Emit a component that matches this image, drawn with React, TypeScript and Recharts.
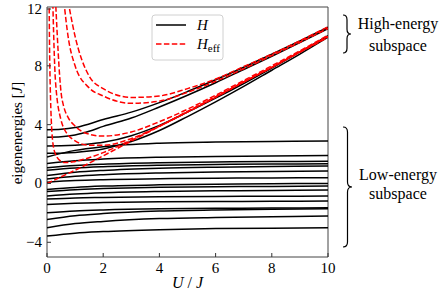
import React from "react";
import { LineChart, Line, XAxis, YAxis, ReferenceArea } from "recharts";

// U/J sample points
const lowU = [0, 1, 2, 4, 6, 8, 10];
const hiU = [0, 0.5, 1, 1.5, 2, 3, 4, 5, 6, 7, 8, 9, 10];
const redU = [0.05, 0.1, 0.2, 0.3, 0.5, 0.6, 0.75, 1, 1.5, 2, 3, 4, 5, 6, 7, 8, 9, 10];

// H : low-energy levels (read at lowU)
const low01 = [1.8, 2.25, 2.5, 2.74, 2.82, 2.86, 2.88];
const low02 = [1.36, 1.55, 1.66, 1.78, 1.84, 1.87, 1.9];
const low03 = [1.07, 1.22, 1.31, 1.41, 1.46, 1.49, 1.51];
const low04 = [0.9, 1.05, 1.14, 1.24, 1.29, 1.32, 1.34];
const low05 = [0.54, 0.76, 0.89, 1.04, 1.11, 1.15, 1.18];
const low06 = [0.3, 0.49, 0.6, 0.72, 0.78, 0.81, 0.84];
const low07 = [0.09, 0.2, 0.26, 0.32, 0.36, 0.38, 0.39];
const low08 = [-0.41, -0.27, -0.18, -0.09, -0.05, -0.02, 0.0];
const low09 = [-0.55, -0.42, -0.35, -0.26, -0.22, -0.2, -0.18];
const low10 = [-0.86, -0.72, -0.63, -0.54, -0.5, -0.47, -0.45];
const low11 = [-1.05, -0.98, -0.95, -0.9, -0.88, -0.87, -0.86];
const low12 = [-1.43, -1.35, -1.3, -1.25, -1.23, -1.21, -1.2];
const low13 = [-1.99, -1.87, -1.8, -1.72, -1.69, -1.67, -1.65];
const low14 = [-2.45, -2.19, -2.05, -1.88, -1.8, -1.76, -1.72];
const low15 = [-3.01, -2.73, -2.58, -2.39, -2.31, -2.26, -2.22];
const low16 = [-3.58, -3.38, -3.27, -3.14, -3.07, -3.04, -3.01];

// H : high-energy levels (read at hiU)
const top1 = [3.65, 3.68, 3.8, 4.05, 4.35, 4.85, 5.5, 6.25, 7.05, 7.9, 8.8, 9.7, 10.62];
const top2 = [3.15, 3.18, 3.3, 3.55, 3.88, 4.45, 5.2, 6.0, 6.85, 7.75, 8.65, 9.58, 10.52];
const bot1 = [2.55, 2.56, 2.6, 2.68, 2.8, 3.25, 3.95, 4.85, 5.8, 6.8, 7.85, 8.95, 10.05];
const bot2 = [2.05, 2.06, 2.1, 2.2, 2.35, 2.85, 3.6, 4.55, 5.55, 6.6, 7.7, 8.8, 9.95];

// H_eff levels
const effLine = [0, 0.45, 0.9, 1.38, 1.88, 2.88, 3.88, 4.88, 5.88, 6.9, 7.9, 8.92, 9.93];
const effIn0 = [20, 8.0, 2.9, 2.0, 1.5, 1.43, 1.42, 1.5, 1.75, 2.1, 2.95, 3.9, 4.9, 5.9, 6.9, 7.9, 8.95, 9.98];
const effIn1 = [null, null, 12.8, 7.0, 4.3, 3.75, 3.3, 2.9, 2.6, 2.6, 3.05, 3.9, 4.85, 5.85, 6.9, 7.9, 8.95, 10.0];
const effIn2 = [null, null, null, 12.6, 6.2, 5.2, 4.5, 3.9, 3.35, 3.22, 3.5, 4.2, 5.05, 6.0, 7.0, 8.0, 9.02, 10.08];
const effOut1 = [null, null, null, null, null, 12.4, 10.0, 8.0, 6.5, 5.95, 5.45, 5.6, 6.2, 6.95, 7.8, 8.7, 9.6, 10.55];
const effOut2 = [null, null, null, null, null, null, 12.4, 10.0, 7.3, 6.45, 5.85, 5.95, 6.45, 7.1, 7.95, 8.8, 9.7, 10.65];

const yTicks = [-4, 0, 4, 8, 12];
const xTicks = [0, 2, 4, 6, 8, 10];

const lowLevels = [low01, low02, low03, low04, low05, low06, low07, low08, low09, low10, low11, low12, low13, low14, low15, low16];
const highLevels = [top1, top2, bot1, bot2];
const effLevels: [number[], (number | null)[]][] = [
  [hiU, effLine],
  [redU, effIn0],
  [redU, effIn1],
  [redU, effIn2],
  [redU, effOut1],
  [redU, effOut2],
];

const pts = (xs: number[], ys: (number | null)[]) => xs.map((u, i) => ({ u, e: ys[i] }));

const serif = "'Liberation Serif', 'DejaVu Serif', serif";
const fmt = (v: number) => (v < 0 ? "\u2212" + Math.abs(v) : String(v));

const YTick = (props: any) => {
  const { x, y, payload } = props;
  return (
    <g>
      <line x1={x} x2={x + 4} y1={y} y2={y} stroke="#333" />
      <text x={x - 5} y={y} dy={5} textAnchor="end" style={{ fontFamily: serif, fontSize: 15 }} fill="#000">
        {fmt(payload.value)}
      </text>
    </g>
  );
};

const XTick = (props: any) => {
  const { x, y, payload } = props;
  return (
    <g>
      <line x1={x} x2={x} y1={y} y2={y - 4} stroke="#333" />
      <text x={x} y={y + 16} textAnchor="middle" style={{ fontFamily: serif, fontSize: 15 }} fill="#000">
        {payload.value}
      </text>
    </g>
  );
};

function brace(x: number, y1: number, y2: number, w: number) {
  const ym = (y1 + y2) / 2;
  const r = Math.min(5, (y2 - y1) / 8);
  const xm = x + w / 2;
  return `M${x},${y1} Q${xm},${y1} ${xm},${y1 + r} L${xm},${ym - r} Q${xm},${ym} ${x + w},${ym} Q${xm},${ym} ${xm},${ym + r} L${xm},${y2 - r} Q${xm},${y2} ${x},${y2}`;
}

export default function App() {
  return (
    <div style={{ position: "absolute", left: 0, top: 0, width: 447, height: 300, background: "#fff" }}>
      <LineChart width={447} height={300} margin={{ top: 7, right: 119, left: 0, bottom: 0 }}>
        <XAxis
          dataKey="u"
          type="number"
          domain={[0, 10]}
          ticks={xTicks}
          allowDataOverflow
          axisLine={false}
          tickLine={false}
          tickSize={0}
          tickMargin={0}
          height={43}
          tick={<XTick />}
        />
        <YAxis
          type="number"
          domain={[-5, 12]}
          ticks={yTicks}
          allowDataOverflow
          axisLine={false}
          tickLine={false}
          tickSize={0}
          tickMargin={0}
          width={47}
          tick={<YTick />}
        />
        {lowLevels.map((ys, i) => (
          <Line
            key={"low" + i}
            data={pts(lowU, ys)}
            dataKey="e"
            type="monotone"
            stroke="#000"
            strokeWidth={1.5}
            dot={false}
            isAnimationActive={false}
          />
        ))}
        {highLevels.map((ys, i) => (
          <Line
            key={"high" + i}
            data={pts(hiU, ys)}
            dataKey="e"
            type="monotone"
            stroke="#000"
            strokeWidth={1.5}
            dot={false}
            isAnimationActive={false}
          />
        ))}
        {effLevels.map(([xs, ys], i) => (
          <Line
            key={"eff" + i}
            data={pts(xs, ys)}
            dataKey="e"
            type="monotone"
            stroke="#ff0000"
            strokeWidth={1.5}
            strokeDasharray="5.5 2.4"
            dot={false}
            isAnimationActive={false}
          />
        ))}
        <ReferenceArea x1={0} x2={10} y1={-5} y2={12} fill="none" stroke="#444" strokeWidth={1} ifOverflow="visible" />
      </LineChart>
      <svg
        width={447}
        height={300}
        style={{ position: "absolute", left: 0, top: 0, pointerEvents: "none", fontFamily: serif }}
      >
        <g>
          <rect x={152} y={15} width={71} height={45} rx={3} fill="#fff" fillOpacity={0.85} stroke="#d0d0d0" />
          <line x1={156} x2={186} y1={25} y2={25} stroke="#000" strokeWidth={1.5} />
          <text x={197} y={30} fontSize={15} fontStyle="italic">H</text>
          <line x1={156} x2={186} y1={44} y2={44} stroke="#ff0000" strokeWidth={1.5} strokeDasharray="5.5 2.4" />
          <text x={197} y={49} fontSize={15} fontStyle="italic">
            H<tspan fontStyle="normal" fontSize={11} dy={3}>eff</tspan>
          </text>
        </g>
        <text x={17} y={133} fontSize={15} textAnchor="middle" transform="rotate(-90 17 133)" dy={5}>
          eigenenergies [<tspan fontStyle="italic">J</tspan>]
        </text>
        <text x={187.5} y={288} fontSize={16} textAnchor="middle">
          <tspan fontStyle="italic">U</tspan> / <tspan fontStyle="italic">J</tspan>
        </text>
        <path d={brace(343, 15, 53, 8)} fill="none" stroke="#000" strokeWidth={1.2} />
        <path d={brace(343, 127, 247, 9)} fill="none" stroke="#000" strokeWidth={1.2} />
        <text x={398} y={29} fontSize={16} textAnchor="middle">High-energy</text>
        <text x={398} y={51} fontSize={16} textAnchor="middle">subspace</text>
        <text x={398} y={180} fontSize={16} textAnchor="middle">Low-energy</text>
        <text x={398} y={199} fontSize={16} textAnchor="middle">subspace</text>
      </svg>
    </div>
  );
}
